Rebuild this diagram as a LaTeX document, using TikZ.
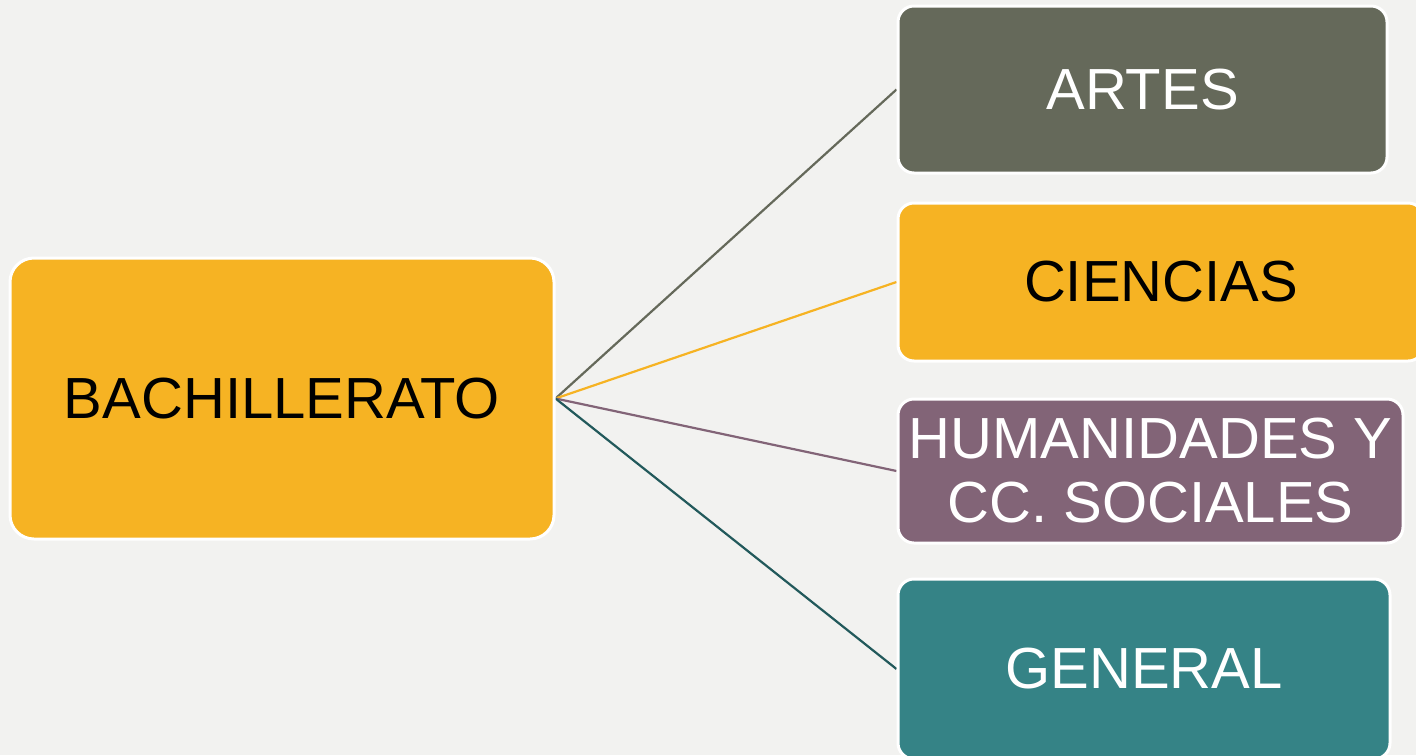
\documentclass[tikz,border=0pt]{standalone}
\usepackage{fontspec}
\setmainfont{Liberation Sans}
\usetikzlibrary{backgrounds}
\definecolor{bgc}{HTML}{F2F2F0}
\definecolor{orng}{HTML}{F6B323}
\definecolor{olive}{HTML}{65695A}
\definecolor{mauve}{HTML}{826477}
\definecolor{teal2}{HTML}{358386}
\definecolor{tealline}{HTML}{22595B}
\tikzset{
  box/.style={rectangle, rounded corners=8pt, draw=white, line width=1.5pt,
    inner sep=0pt, font=\fontsize{29}{32}\selectfont, align=center},
  link/.style={line width=1.1pt},
}
\begin{document}
\begin{tikzpicture}[x=0.5pt,y=-0.5pt]
\useasboundingbox (0,0) rectangle (1416,755);
\clip (0,0) rectangle (1416,755);
\node[box, fill=orng, text=black, minimum width=272pt, minimum height=140.5pt, rounded corners=12pt] (bach) at (282,398.5) {BACHILLERATO};
\node[box, fill=olive, text=white, minimum width=244.5pt, minimum height=83.5pt] (artes) at (1142.5,89.5) {ARTES};
\node[box, fill=orng, text=black, minimum width=263pt, minimum height=79pt] (cien) at (1161,282) {CIENCIAS};
\node[box, fill=mauve, text=white, minimum width=252.5pt, minimum height=72pt] (hum) at (1150.5,471) {HUMANIDADES Y\\CC. SOCIALES};
\node[box, fill=teal2, text=white, minimum width=246pt, minimum height=90pt] (gen) at (1144,669) {GENERAL};
\begin{pgfonlayer}{background}
\fill[bgc] (0,0) rectangle (1416,755);
\draw[link, olive] (bach.east) -- (artes.west);
\draw[link, orng] (bach.east) -- (cien.west);
\draw[link, mauve] (bach.east) -- (hum.west);
\draw[link, tealline] (bach.east) -- (gen.west);
\end{pgfonlayer}
\end{tikzpicture}
\end{document}
